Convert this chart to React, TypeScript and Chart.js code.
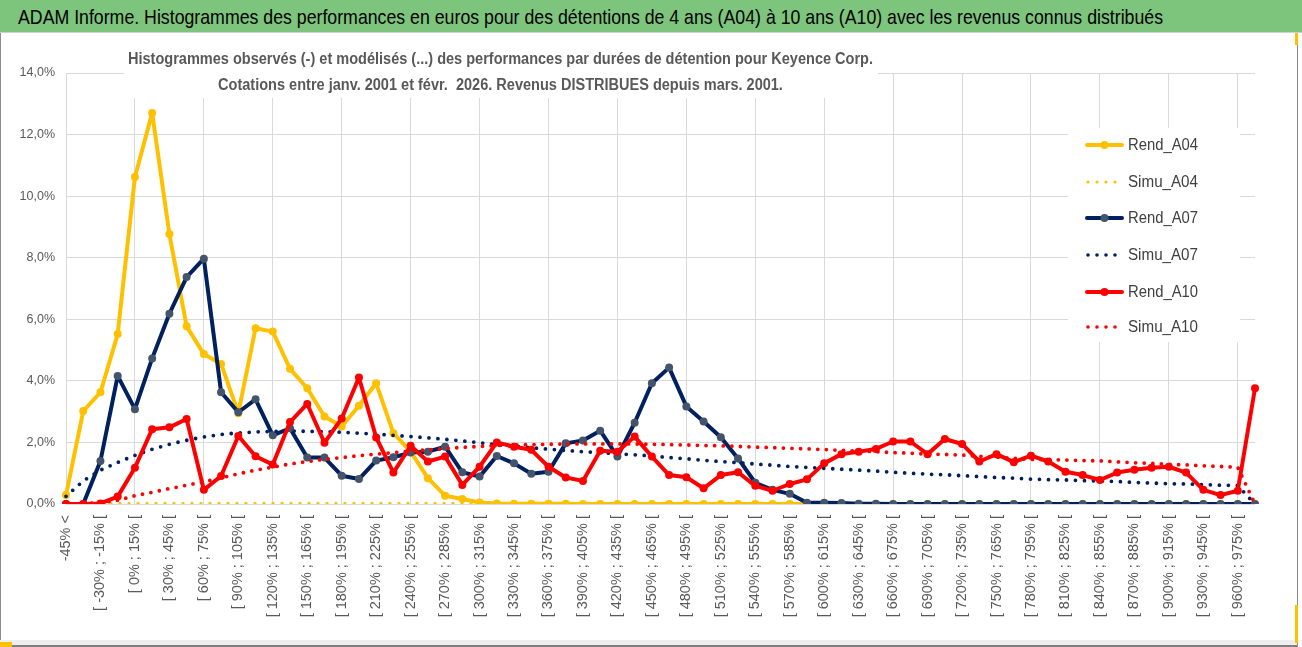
import React, { useEffect, useRef } from 'react';
import { Chart, registerables } from 'chart.js';

Chart.register(...registerables);

const titleText =
  'ADAM Informe. Histogrammes des performances en euros pour des détentions de 4 ans (A04) à 10 ans (A10) avec les revenus connus distribués';
const subtitleLines = [
  'Histogrammes observés (-) et modélisés (...) des performances par durées de détention pour Keyence Corp.',
  'Cotations entre janv. 2001 et févr.  2026. Revenus DISTRIBUES depuis mars. 2001.',
];

const categories = [
  '-45% <', '[ -45% ; -30% [', '[ -30% ; -15% [', '[ -15% ; 0% [',
  '[ 0% ; 15% [', '[ 15% ; 30% [', '[ 30% ; 45% [', '[ 45% ; 60% [',
  '[ 60% ; 75% [', '[ 75% ; 90% [', '[ 90% ; 105% [', '[ 105% ; 120% [',
  '[ 120% ; 135% [', '[ 135% ; 150% [', '[ 150% ; 165% [', '[ 165% ; 180% [',
  '[ 180% ; 195% [', '[ 195% ; 210% [', '[ 210% ; 225% [', '[ 225% ; 240% [',
  '[ 240% ; 255% [', '[ 255% ; 270% [', '[ 270% ; 285% [', '[ 285% ; 300% [',
  '[ 300% ; 315% [', '[ 315% ; 330% [', '[ 330% ; 345% [', '[ 345% ; 360% [',
  '[ 360% ; 375% [', '[ 375% ; 390% [', '[ 390% ; 405% [', '[ 405% ; 420% [',
  '[ 420% ; 435% [', '[ 435% ; 450% [', '[ 450% ; 465% [', '[ 465% ; 480% [',
  '[ 480% ; 495% [', '[ 495% ; 510% [', '[ 510% ; 525% [', '[ 525% ; 540% [',
  '[ 540% ; 555% [', '[ 555% ; 570% [', '[ 570% ; 585% [', '[ 585% ; 600% [',
  '[ 600% ; 615% [', '[ 615% ; 630% [', '[ 630% ; 645% [', '[ 645% ; 660% [',
  '[ 660% ; 675% [', '[ 675% ; 690% [', '[ 690% ; 705% [', '[ 705% ; 720% [',
  '[ 720% ; 735% [', '[ 735% ; 750% [', '[ 750% ; 765% [', '[ 765% ; 780% [',
  '[ 780% ; 795% [', '[ 795% ; 810% [', '[ 810% ; 825% [', '[ 825% ; 840% [',
  '[ 840% ; 855% [', '[ 855% ; 870% [', '[ 870% ; 885% [', '[ 885% ; 900% [',
  '[ 900% ; 915% [', '[ 915% ; 930% [', '[ 930% ; 945% [', '[ 945% ; 960% [',
  '[ 960% ; 975% [', '[ 975% ; 990% [',
];

const yTickValues = [0, 2, 4, 6, 8, 10, 12, 14];

const rendA04 = [
  0.29, 3.02, 3.63, 5.52, 10.62, 12.70, 8.77, 5.77, 4.87, 4.55,
  2.95, 5.71, 5.60, 4.39, 3.76, 2.84, 2.52, 3.19, 3.92, 2.30,
  1.70, 0.84, 0.27, 0.16, 0.05, 0.02, 0.01, 0.01, 0.01, 0.01,
  0, 0, 0, 0, 0, 0, 0, 0, 0, 0,
  0, 0, 0, 0, 0, 0, 0, 0, 0, 0,
  0, 0, 0, 0, 0, 0, 0, 0, 0, 0,
  0, 0, 0, 0, 0, 0, 0, 0, 0, 0,
];

const simuA04 = [
  0.00, 0.02, 0.02, 0.02, 0.02, 0.02, 0.02, 0.02, 0.02, 0.02,
  0.02, 0.02, 0.02, 0.02, 0.02, 0.02, 0.02, 0.02, 0.02, 0.02,
  0.02, 0.02, 0.02, 0.02, 0.02, 0.02, 0.02, 0.02, 0.02, 0.02,
  0.02, 0.02, 0.02, 0.02, 0.02, 0.02, 0.02, 0.02, 0.02, 0.02,
  0.01, 0.01, 0.01, 0.01, 0.01, 0.01, 0.01, 0.01, 0.01, 0.01,
  0, 0, 0, 0, 0, 0, 0, 0, 0, 0,
  0, 0, 0, 0, 0, 0, 0, 0, 0, 0,
];

const rendA07 = [
  0, 0, 1.40, 4.16, 3.08, 4.73, 6.18, 7.37, 7.97, 3.63,
  2.98, 3.40, 2.23, 2.46, 1.51, 1.51, 0.92, 0.81, 1.41, 1.52,
  1.67, 1.70, 1.86, 1.03, 0.89, 1.56, 1.32, 0.98, 1.05, 1.97,
  2.06, 2.38, 1.54, 2.64, 3.92, 4.43, 3.17, 2.68, 2.17, 1.48,
  0.69, 0.46, 0.33, 0.04, 0.04, 0.03, 0.01, 0.01, 0, 0,
  0, 0, 0, 0, 0, 0, 0, 0, 0, 0,
  0, 0, 0, 0, 0, 0, 0, 0, 0, 0,
];

const simuA07 = [
  0.25, 0.75, 1.10, 1.35, 1.58, 1.78, 1.94, 2.07, 2.18, 2.26,
  2.31, 2.34, 2.36, 2.37, 2.36, 2.35, 2.33, 2.30, 2.27, 2.23,
  2.19, 2.15, 2.10, 2.05, 1.99, 1.93, 1.87, 1.83, 1.78, 1.74,
  1.70, 1.67, 1.63, 1.60, 1.56, 1.51, 1.47, 1.42, 1.38, 1.34,
  1.30, 1.26, 1.22, 1.19, 1.16, 1.13, 1.10, 1.07, 1.03, 1.00,
  0.97, 0.95, 0.92, 0.89, 0.86, 0.84, 0.81, 0.79, 0.78, 0.76,
  0.75, 0.73, 0.70, 0.68, 0.66, 0.65, 0.63, 0.61, 0.60, 0,
];

const rendA10 = [
  0, 0, 0.02, 0.24, 1.18, 2.43, 2.49, 2.76, 0.46, 0.91,
  2.21, 1.55, 1.28, 2.66, 3.25, 1.99, 2.78, 4.11, 2.16, 1.02,
  1.89, 1.38, 1.54, 0.62, 1.21, 2.00, 1.86, 1.76, 1.21, 0.86,
  0.75, 1.73, 1.70, 2.19, 1.54, 0.94, 0.87, 0.51, 0.94, 1.03,
  0.59, 0.43, 0.65, 0.80, 1.32, 1.62, 1.70, 1.79, 2.03, 2.03,
  1.62, 2.11, 1.95, 1.38, 1.62, 1.36, 1.57, 1.38, 1.05, 0.94,
  0.78, 1.02, 1.11, 1.18, 1.21, 1.02, 0.46, 0.29, 0.43, 3.76,
];

const simuA10 = [
  0.00, 0.01, 0.04, 0.12, 0.27, 0.38, 0.50, 0.61, 0.72, 0.85,
  0.98, 1.10, 1.20, 1.30, 1.38, 1.45, 1.51, 1.57, 1.62, 1.67,
  1.72, 1.76, 1.80, 1.84, 1.87, 1.90, 1.92, 1.93, 1.94, 1.95,
  1.95, 1.95, 1.95, 1.95, 1.94, 1.93, 1.92, 1.90, 1.89, 1.87,
  1.85, 1.83, 1.81, 1.79, 1.77, 1.74, 1.72, 1.70, 1.67, 1.65,
  1.62, 1.61, 1.59, 1.55, 1.52, 1.48, 1.45, 1.44, 1.43, 1.41,
  1.40, 1.37, 1.34, 1.32, 1.29, 1.27, 1.24, 1.22, 1.19, 0,
];

const YELLOW = '#FFC000';
const NAVY = '#002060';
const NAVY_MARK = '#44546A';
const RED = '#FF0000';
const TEXT_GRAY = '#595959';
const GRID = '#D9D9D9';
const FONT = '"Liberation Sans", Arial, sans-serif';

const legendItems = [
  { label: 'Rend_A04', color: YELLOW, marker: YELLOW, dotted: false },
  { label: 'Simu_A04', color: YELLOW, marker: '', dotted: true },
  { label: 'Rend_A07', color: NAVY, marker: NAVY_MARK, dotted: false },
  { label: 'Simu_A07', color: NAVY, marker: '', dotted: true },
  { label: 'Rend_A10', color: RED, marker: RED, dotted: false },
  { label: 'Simu_A10', color: RED, marker: '', dotted: true },
];

const CANVAS_TOP = 34;

const subtitlePlugin = {
  id: 'subtitleBox',
  beforeDatasetsDraw(chart: any) {
    const ctx = chart.ctx as CanvasRenderingContext2D;
    ctx.save();
    ctx.fillStyle = '#ffffff';
    ctx.fillRect(124, 8, 754, 98 - CANVAS_TOP - 8);
    ctx.font = `bold 16px ${FONT}`;
    const w = ctx.measureText(subtitleLines[0]).width;
    const sx = 745 / w;
    ctx.fillStyle = TEXT_GRAY;
    ctx.textAlign = 'center';
    ctx.textBaseline = 'middle';
    ctx.translate(500.5, 0);
    ctx.scale(sx, 1);
    ctx.fillText(subtitleLines[0], 0, 60 - CANVAS_TOP);
    ctx.fillText(subtitleLines[1], 0, 86 - CANVAS_TOP);
    ctx.restore();
  },
};

const legendPlugin = {
  id: 'insideLegend',
  afterDatasetsDraw(chart: any) {
    const ctx = chart.ctx as CanvasRenderingContext2D;
    const centers = [145, 182, 218, 255, 292, 327];
    ctx.save();
    ctx.fillStyle = '#ffffff';
    ctx.fillRect(1068, 128 - CANVAS_TOP, 172, 214);
    legendItems.forEach((it, i) => {
      const y = centers[i] - CANVAS_TOP;
      ctx.beginPath();
      ctx.strokeStyle = it.color;
      if (it.dotted) {
        ctx.setLineDash([0, 9]);
        ctx.lineCap = 'round';
        ctx.lineWidth = it.color === YELLOW ? 3.2 : 3.6;
        ctx.moveTo(1088, y);
        ctx.lineTo(1124, y);
        ctx.stroke();
        ctx.setLineDash([]);
      } else {
        ctx.setLineDash([]);
        ctx.lineCap = 'round';
        ctx.lineWidth = 4;
        ctx.moveTo(1087, y);
        ctx.lineTo(1122, y);
        ctx.stroke();
        ctx.beginPath();
        ctx.fillStyle = it.marker;
        ctx.arc(1104.5, y, 4, 0, Math.PI * 2);
        ctx.fill();
      }
      ctx.save();
      ctx.fillStyle = '#404040';
      ctx.font = `16px ${FONT}`;
      const lw = ctx.measureText(it.label).width;
      ctx.textAlign = 'left';
      ctx.textBaseline = 'middle';
      ctx.translate(1128, 0);
      ctx.scale(70 / lw, 1);
      ctx.fillText(it.label, 0, y + 1);
      ctx.restore();
    });
    ctx.restore();
  },
};

export default function App() {
  const canvasRef = useRef<HTMLCanvasElement>(null);
  const titleRef = useRef<HTMLSpanElement>(null);

  useEffect(() => {
    document.body.style.margin = '0';
    // fit title text horizontally to the reference width
    const mc = document.createElement('canvas').getContext('2d')!;
    mc.font = `21px ${FONT}`;
    const tw = mc.measureText(titleText).width;
    if (titleRef.current) {
      titleRef.current.style.transform = `scaleX(${(1145 / tw).toFixed(4)})`;
    }

    const canvas = canvasRef.current!;
    const mkRend = (label: string, data: number[], color: string, marker: string, order: number) => ({
      label,
      data,
      borderColor: color,
      backgroundColor: color,
      borderWidth: 4,
      pointRadius: 4,
      pointBackgroundColor: marker,
      pointBorderWidth: 0,
      pointHoverRadius: 4,
      tension: 0,
      order,
      borderCapStyle: 'round' as const,
      borderJoinStyle: 'round' as const,
    });
    const mkSimu = (label: string, data: number[], color: string, width: number, gap: number, order: number) => ({
      label,
      data,
      borderColor: color,
      backgroundColor: color,
      borderWidth: width,
      borderDash: [0, gap],
      borderCapStyle: 'round' as const,
      pointRadius: 0,
      pointHoverRadius: 0,
      tension: 0,
      order,
    });

    const chart = new Chart(canvas, {
      type: 'line',
      data: {
        labels: categories,
        datasets: [
          mkRend('Rend_A04', rendA04, YELLOW, YELLOW, 5),
          mkSimu('Simu_A04', simuA04, YELLOW, 3.2, 9, 4),
          mkRend('Rend_A07', rendA07, NAVY, NAVY_MARK, 3),
          mkSimu('Simu_A07', simuA07, NAVY, 3.8, 9, 2),
          mkRend('Rend_A10', rendA10, RED, RED, 1),
          mkSimu('Simu_A10', simuA10, RED, 3.8, 8.6, 0),
        ] as any,
      },
      options: {
        responsive: false,
        animation: false,
        devicePixelRatio: 1,
        layout: { padding: { top: 39, right: 47, left: 0, bottom: 0 }, autoPadding: false } as any,
        plugins: {
          legend: { display: false },
          title: { display: false },
          tooltip: { enabled: false },
        },
        events: [],
        scales: {
          x: {
            type: 'category',
            offset: false,
            afterFit: (s: any) => {
              s.height = 143;
            },
            border: { display: false },
            grid: {
              drawTicks: false,
              color: (c: any) => (c.index % 4 === 0 ? GRID : 'rgba(0,0,0,0)'),
              lineWidth: 1,
            },
            ticks: {
              autoSkip: false,
              maxRotation: 90,
              minRotation: 90,
              padding: 11,
              color: TEXT_GRAY,
              font: { family: FONT, size: 14.5 },
              callback: (_v: any, i: number) => (i % 2 === 0 ? categories[i] : ''),
            },
          },
          y: {
            min: 0,
            max: 14,
            afterFit: (s: any) => {
              s.width = 66;
            },
            afterBuildTicks: (s: any) => {
              s.ticks = yTickValues.map((v) => ({ value: v }));
            },
            border: { display: false },
            grid: { drawTicks: false, color: GRID, lineWidth: 1 },
            ticks: {
              padding: 11,
              color: TEXT_GRAY,
              font: { family: FONT, size: 12.5 },
              callback: (v: any) => `${Number(v).toFixed(1).replace('.', ',')}%`,
            },
          },
        },
      } as any,
      plugins: [subtitlePlugin, legendPlugin],
    });
    return () => chart.destroy();
  }, []);

  return (
    <div
      style={{
        position: 'relative',
        width: 1302,
        height: 647,
        overflow: 'hidden',
        background: '#ffffff',
      }}
    >
      <div
        style={{
          position: 'absolute',
          left: 0,
          top: 0,
          width: 1302,
          height: 33,
          background: '#7DC47C',
          borderBottom: '1px solid #cfcfcf',
          boxSizing: 'border-box',
          overflow: 'hidden',
        }}
      >
        <span
          ref={titleRef}
          style={{
            position: 'absolute',
            left: 18,
            top: 0,
            color: '#000000',
            fontFamily: FONT,
            fontSize: 21,
            lineHeight: '33px',
            whiteSpace: 'nowrap',
            transformOrigin: 'left center',
            display: 'inline-block',
          }}
        >
          {titleText}
        </span>
      </div>
      <canvas
        ref={canvasRef}
        width={1302}
        height={613}
        style={{ position: 'absolute', left: 0, top: CANVAS_TOP, width: 1302, height: 613 }}
      />
      <div style={{ position: 'absolute', left: 0, top: 33, width: 1, height: 614, background: '#8c8c8c' }} />
      <div style={{ position: 'absolute', left: 0, top: 640, width: 1298, height: 5, background: '#eeeeee' }} />
      <div style={{ position: 'absolute', left: 0, top: 645, width: 1298, height: 2, background: '#7f7f7f' }} />
      <div style={{ position: 'absolute', left: 1297, top: 33, width: 1, height: 614, background: '#8c8c8c' }} />
      <div style={{ position: 'absolute', left: 0, top: 642, width: 12, height: 5, background: YELLOW }} />
      <div style={{ position: 'absolute', left: 1295, top: 605, width: 3, height: 38, background: YELLOW }} />
      <div style={{ position: 'absolute', left: 1295, top: 33, width: 3, height: 12, background: YELLOW }} />
    </div>
  );
}
